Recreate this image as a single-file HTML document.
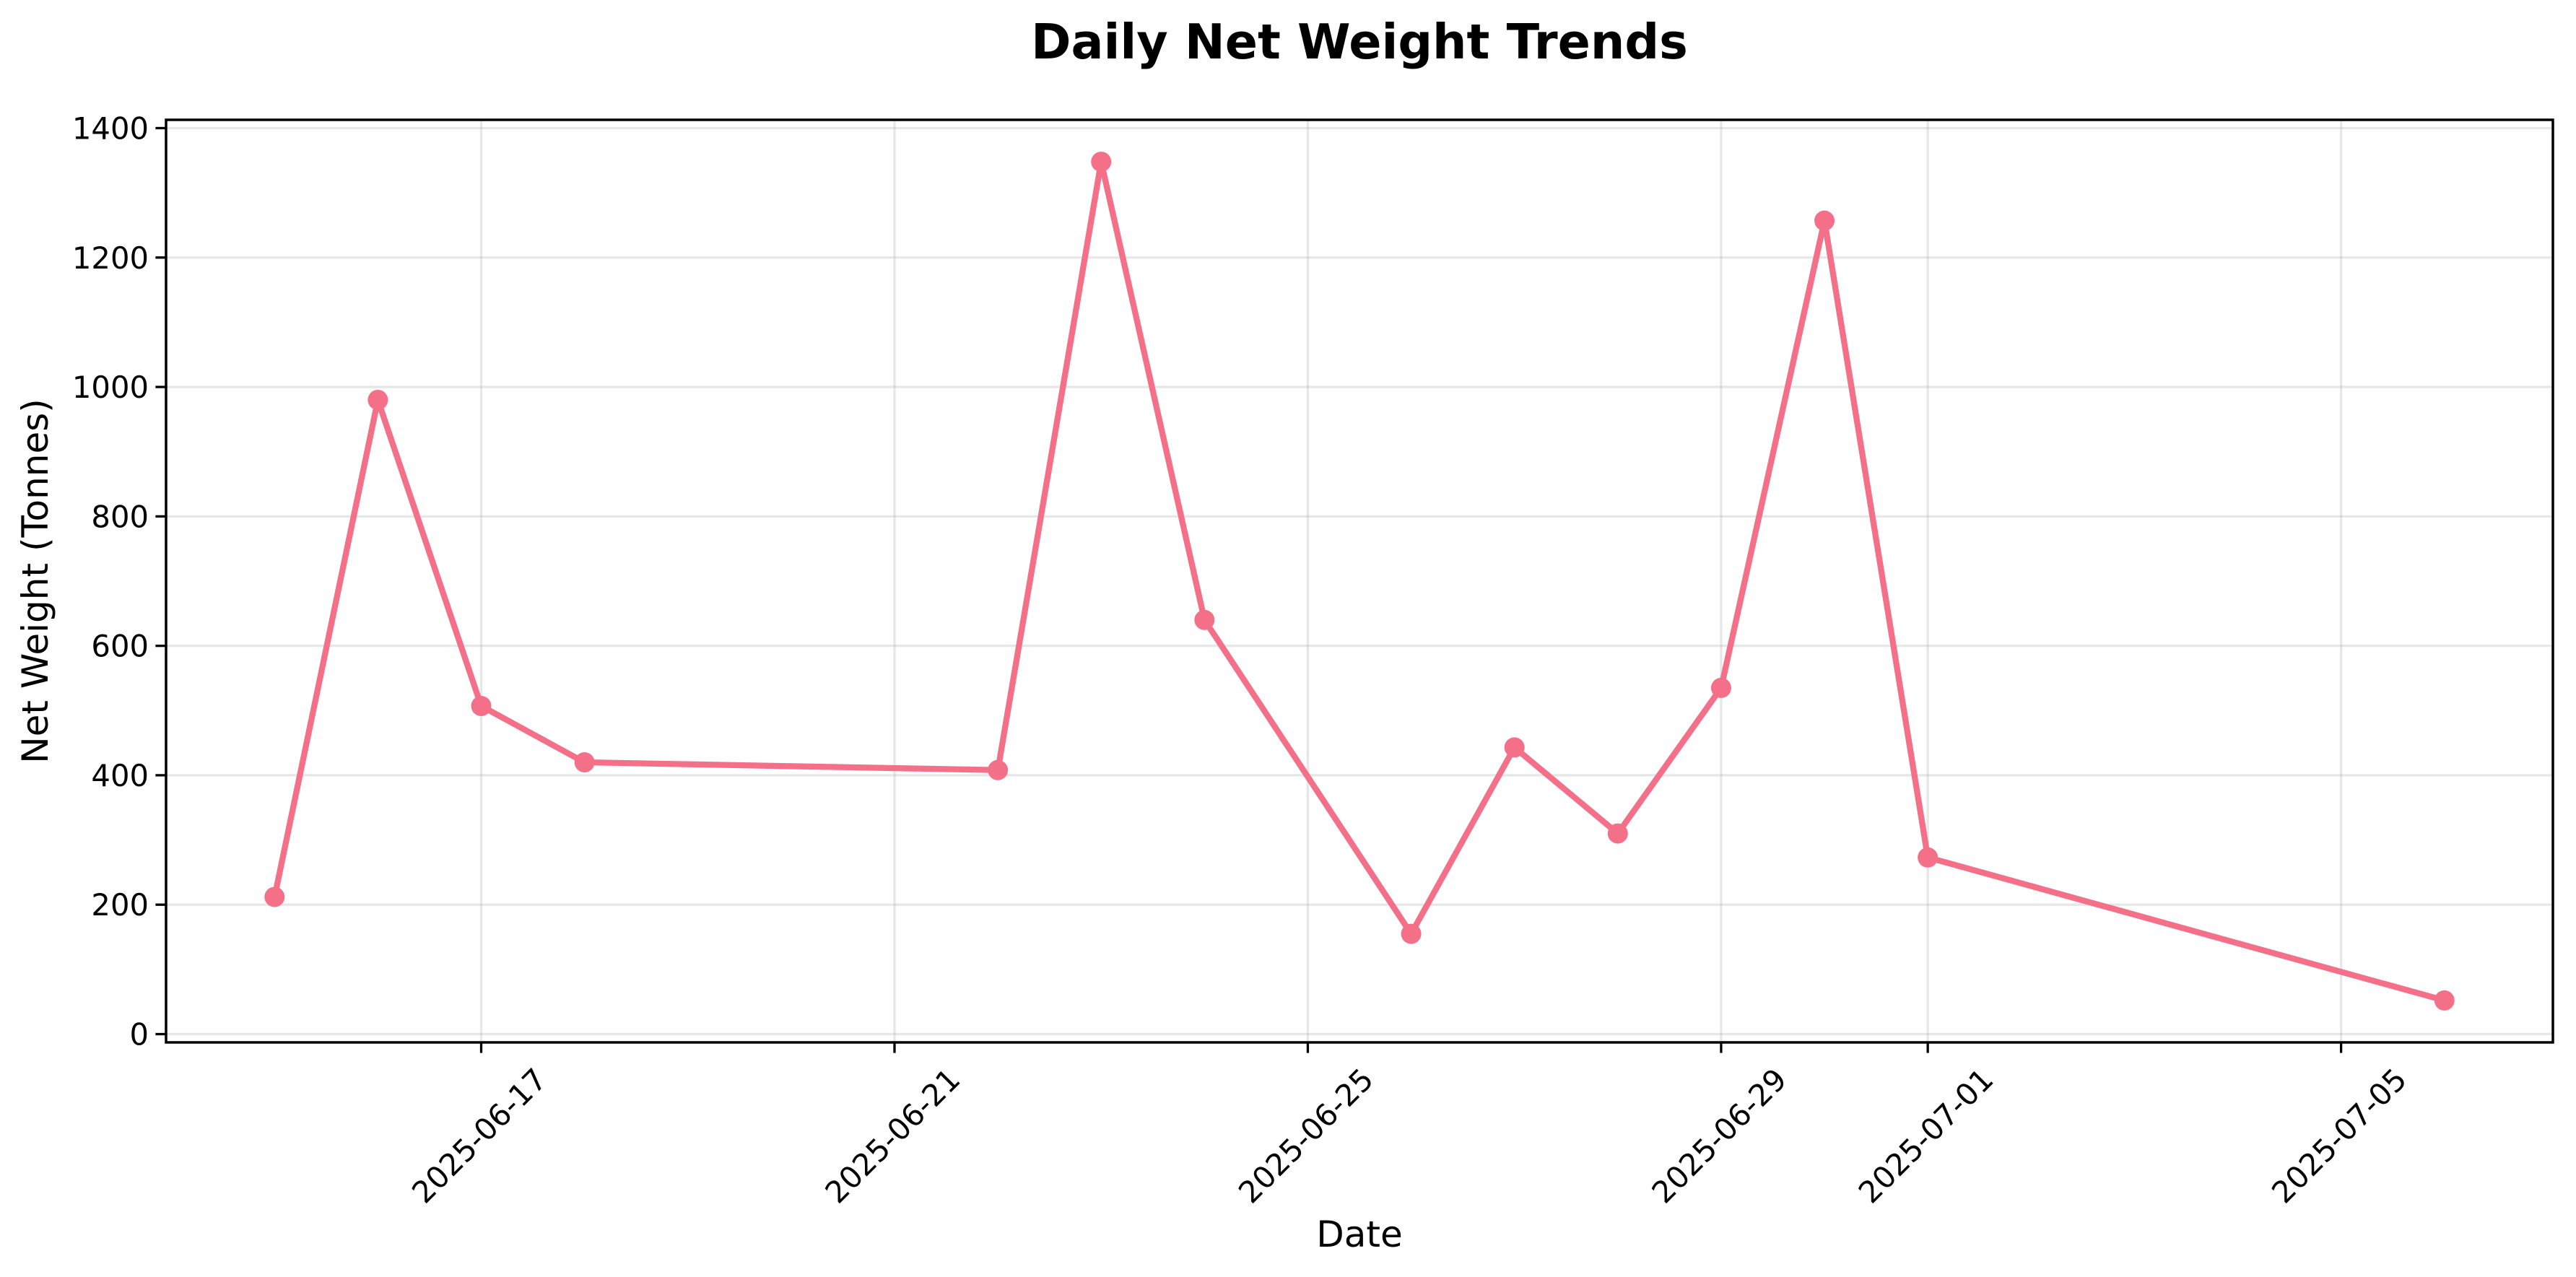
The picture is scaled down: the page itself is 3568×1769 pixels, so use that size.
<!DOCTYPE html>
<html><head><meta charset="utf-8"><style>
html,body{margin:0;padding:0;background:#fff;}
svg{display:block;font-family:"DejaVu Sans","Liberation Sans",sans-serif;}
</style></head><body>
<svg id="chart" width="3568" height="1769" viewBox="0 0 3568 1769">
<rect width="3568" height="1769" fill="#fff"/>
<text x="1883" y="81" font-size="66.7" font-weight="bold" text-anchor="middle">Daily Net Weight Trends</text>
<g id="grid"></g>
<g id="series"></g>
<rect x="230" y="166" width="3306" height="1278" fill="none" stroke="#000" stroke-width="3.5"/>
<g id="axes"></g>
<text x="1883" y="1727" font-size="50" text-anchor="middle">Date</text>
<text transform="translate(66,805) rotate(-90)" font-size="50" text-anchor="middle">Net Weight (Tonnes)</text>
</svg>
<script>
const dates = ["2025-06-15","2025-06-16","2025-06-17","2025-06-18","2025-06-22","2025-06-23","2025-06-24","2025-06-26","2025-06-27","2025-06-28","2025-06-29","2025-06-30","2025-07-01","2025-07-06"];
const weights = [212,980,507,420,408,1348,640,155,443,310,535,1257,273,52];
const xTickLabels = ["2025-06-17","2025-06-21","2025-06-25","2025-06-29","2025-07-01","2025-07-05"];
const yTickValues = [0,200,400,600,800,1000,1200,1400];

const NS = "http://www.w3.org/2000/svg";
const L = 230, R = 3536, T = 166, B = 1444;
const day = d => Date.parse(d + "T00:00:00Z") / 86400000;
const dVals = dates.map(day);
const dMin = Math.min(...dVals), dMax = Math.max(...dVals);
const dPad = (dMax - dMin) * 0.05;
const wMin = Math.min(...weights), wMax = Math.max(...weights);
const wPad = (wMax - wMin) * 0.05;
const xS = d => L + (day(d) - (dMin - dPad)) / ((dMax + dPad) - (dMin - dPad)) * (R - L);
const yS = v => B - (v - (wMin - wPad)) / ((wMax + wPad) - (wMin - wPad)) * (B - T);

function mk(tag, attrs, parent) {
  const e = document.createElementNS(NS, tag);
  for (const k in attrs) e.setAttribute(k, attrs[k]);
  parent.appendChild(e);
  return e;
}
const grid = document.getElementById("grid");
const axes = document.getElementById("axes");
const series = document.getElementById("series");

yTickValues.forEach(v => {
  const y = yS(v);
  const g = mk("line", {x1: L, x2: R, y1: y, y2: y, stroke: "#b0b0b0", "stroke-opacity": 0.3, "stroke-width": 3.3}, grid);
  
  
  const t = mk("line", {x1: L - 14.6, x2: L, y1: y, y2: y, stroke: "#000", "stroke-width": 3.3}, axes);
  
  
  const lb = mk("text", {x: L - 24, y: y + 15, "font-size": 41.7, "text-anchor": "end"}, axes);
  lb.textContent = v;
  
  
});
xTickLabels.forEach(d => {
  const x = xS(d);
  const g = mk("line", {x1: x, x2: x, y1: T, y2: B, stroke: "#b0b0b0", "stroke-opacity": 0.3, "stroke-width": 3.3}, grid);
  
  
  const t = mk("line", {x1: x, x2: x, y1: B, y2: B + 14.6, stroke: "#000", "stroke-width": 3.3}, axes);
  
  
  const cx = x - 3, cy = 1573;
  const lb = mk("text", {x: 0, y: 15, "font-size": 41.7, "text-anchor": "middle", transform: `translate(${cx},${cy}) rotate(-45)`}, axes);
  lb.textContent = d;
  
  
});
const pts = dates.map((d, i) => xS(d) + "," + yS(weights[i])).join(" ");
const line = mk("polyline", {points: pts, fill: "none", stroke: "#f37088", "stroke-width": 8.3, "stroke-linejoin": "round", "stroke-linecap": "round"}, series);


dates.forEach((d, i) => {
  const c = mk("circle", {cx: xS(d), cy: yS(weights[i]), r: 14, fill: "#f37088"}, series);
  
  
});
</script>
</body></html>
